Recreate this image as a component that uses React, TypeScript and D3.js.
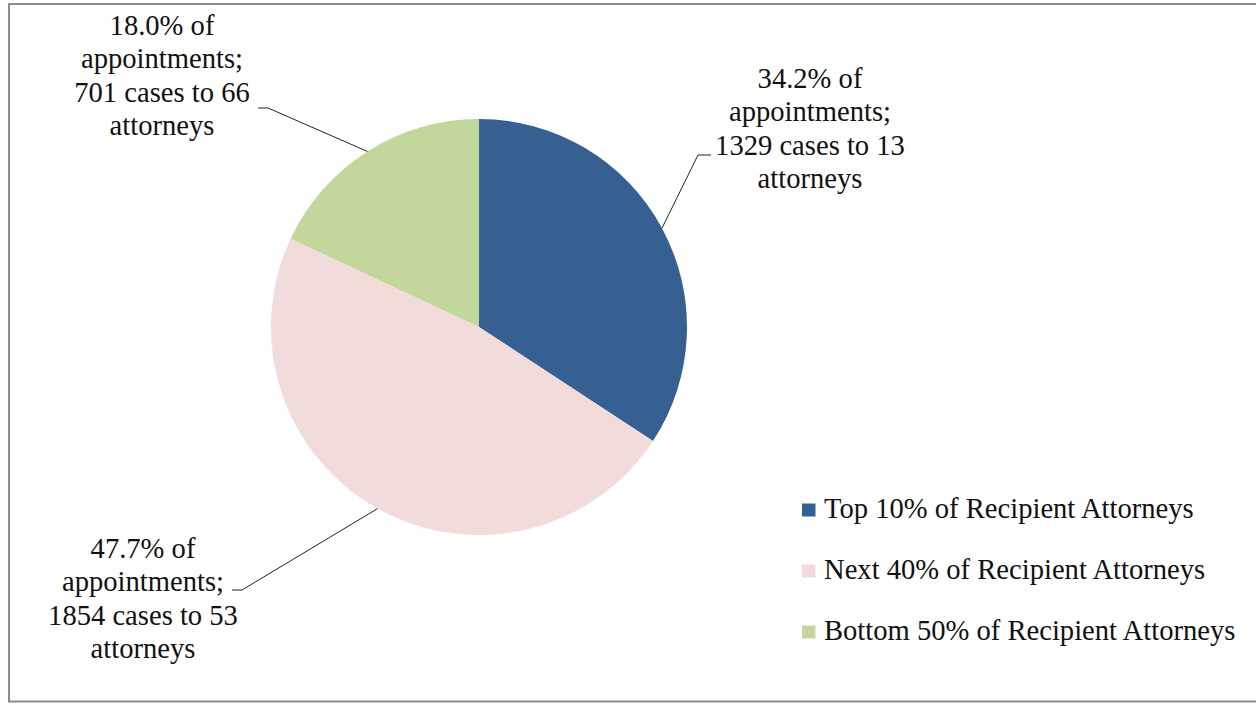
import React from "react";
import * as d3 from "d3";

const categories = [
  "Top 10% of Recipient Attorneys",
  "Next 40% of Recipient Attorneys",
  "Bottom 50% of Recipient Attorneys",
];
const shares = [34.2, 47.7, 18.0];
const cases = [1329, 1854, 701];
const attorneys = [13, 53, 66];
const colors = ["#376092", "#F2DCDB", "#C3D69B"];

const W = 1256;
const H = 704;
const cx = 479;
const cy = 327;
const R = 208;
const FONT = '"Times New Roman", "Liberation Serif", Tinos, "DejaVu Serif", serif';
const FS = 28.6;
const LH = 33.4;

const labelLayout = [
  { x: 810, y: 88, ex: 698, ey: 155, tx: 711 },
  { x: 143, y: 558, ex: 242, ey: 590, tx: 232 },
  { x: 162, y: 35, ex: 268, ey: 108, tx: 258 },
];

export default function App() {
  const pie = d3
    .pie<number>()
    .sort(null)
    .value((d) => d);
  const arcs = pie(shares);
  const arcGen = d3.arc<d3.PieArcDatum<number>>().innerRadius(0).outerRadius(R);
  const ts: React.CSSProperties = { fontFamily: FONT, fontSize: FS };

  return (
    <svg width={W} height={H} style={{ position: "absolute", left: 0, top: 0 }}>
      <rect x={0} y={0} width={W} height={H} fill="#fff" />
      <rect
        x={9}
        y={4}
        width={W + 10}
        height={697.5}
        fill="none"
        stroke="#8c8c8c"
        strokeWidth={2}
      />
      <g transform={`translate(${cx},${cy})`}>
        {arcs.map((a, i) => (
          <path key={i} d={arcGen(a) || ""} fill={colors[i]} />
        ))}
      </g>
      {arcs.map((a, i) => {
        const mid = (a.startAngle + a.endAngle) / 2;
        const px = cx + R * Math.sin(mid);
        const py = cy - R * Math.cos(mid);
        const L = labelLayout[i];
        const lines = [
          `${shares[i].toFixed(1)}% of`,
          "appointments;",
          `${cases[i]} cases to ${attorneys[i]}`,
          "attorneys",
        ];
        return (
          <g key={i}>
            <polyline
              points={`${px},${py} ${L.ex},${L.ey} ${L.tx},${L.ey}`}
              fill="none"
              stroke="#222"
              strokeWidth={1}
            />
            <text x={L.x} y={L.y} style={ts} textAnchor="middle" fill="#111">
              {lines.map((t, j) => (
                <tspan key={j} x={L.x} y={L.y + j * LH}>
                  {t}
                </tspan>
              ))}
            </text>
          </g>
        );
      })}
      {categories.map((c, i) => (
        <g key={c} transform={`translate(802,${510 + i * 61})`}>
          <rect x={0} y={-6.5} width={13.5} height={13} fill={colors[i]} />
          <text x={22} y={8} style={ts} fill="#111">
            {c}
          </text>
        </g>
      ))}
    </svg>
  );
}
